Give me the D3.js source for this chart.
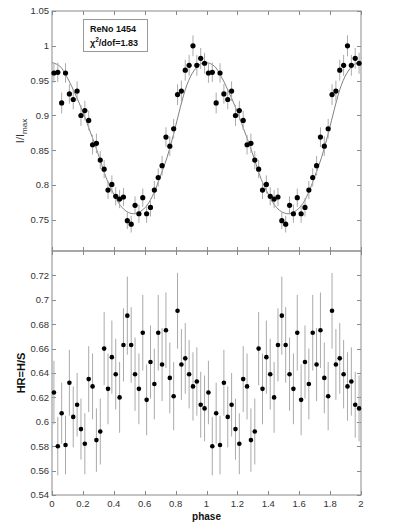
<!DOCTYPE html>
<html><head><meta charset="utf-8">
<script src="https://cdn.jsdelivr.net/npm/d3@7"></script>
<style>body{margin:0;background:#fff}</style>
</head><body><svg id="c" width="399" height="532"></svg>
<script>
// one cycle of folded data (the chart shows it twice, phase 0-1 and 1-2)
const phases = [0.0125,0.0375,0.0625,0.0875,0.1125,0.1375,0.1625,0.1875,0.2125,0.2375,
  0.2625,0.2875,0.3125,0.3375,0.3625,0.3875,0.4125,0.4375,0.4625,0.4875,
  0.5125,0.5375,0.5625,0.5875,0.6125,0.6375,0.6625,0.6875,0.7125,0.7375,
  0.7625,0.7875,0.8125,0.8375,0.8625,0.8875,0.9125,0.9375,0.9625,0.9875];
const flux = [0.961,0.962,0.918,0.961,0.931,0.923,0.935,0.900,0.907,0.893,
  0.858,0.860,0.836,0.823,0.793,0.801,0.784,0.780,0.783,0.749,
  0.744,0.771,0.759,0.782,0.759,0.768,0.793,0.811,0.828,0.869,
  0.856,0.881,0.930,0.935,0.965,0.972,1.000,0.972,0.982,0.975];
const fluxErr = [0.014,0.014,0.015,0.014,0.014,0.014,0.014,0.015,0.014,0.014,
  0.014,0.014,0.013,0.013,0.013,0.013,0.013,0.013,0.013,0.012,
  0.012,0.013,0.013,0.013,0.013,0.013,0.013,0.013,0.014,0.014,
  0.014,0.014,0.015,0.015,0.015,0.015,0.015,0.015,0.015,0.015];
const hr = [0.624,0.580,0.607,0.581,0.632,0.604,0.614,0.594,0.582,0.635,
  0.629,0.585,0.592,0.660,0.627,0.653,0.639,0.620,0.663,0.687,
  0.663,0.639,0.627,0.673,0.618,0.649,0.631,0.673,0.647,0.675,
  0.636,0.621,0.691,0.647,0.652,0.639,0.629,0.633,0.614,0.611];
const hrErr = [0.026,0.024,0.025,0.024,0.027,0.025,0.026,0.025,0.025,0.027,
  0.027,0.026,0.027,0.030,0.029,0.030,0.029,0.029,0.030,0.032,
  0.031,0.030,0.029,0.031,0.029,0.030,0.029,0.031,0.030,0.031,
  0.029,0.028,0.031,0.029,0.029,0.028,0.028,0.028,0.027,0.027];
// model curve (one cycle)
const modelPhase = [0,0.05,0.095,0.16,0.205,0.25,0.28,0.312,0.355,0.4,0.442,0.485,0.528,
  0.571,0.615,0.658,0.7,0.745,0.788,0.831,0.875,0.918,0.961,1.0];
const modelFlux = [0.976,0.971,0.956,0.926,0.902,0.875,0.857,0.836,0.808,0.787,0.771,0.762,0.759,
  0.762,0.771,0.788,0.812,0.840,0.874,0.912,0.945,0.964,0.974,0.976];
const cycles = [0,1];
const xTicks = [0,0.2,0.4,0.6,0.8,1,1.2,1.4,1.6,1.8,2];
const fluxTicks = [0.75,0.8,0.85,0.9,0.95,1,1.05];
const hrTicks = [0.54,0.56,0.58,0.6,0.62,0.64,0.66,0.68,0.7,0.72];
const labelName = "ReNo 1454";
const labelChi = "1.83";

const svg = d3.select("#c");
const L = 52, R = 361, T1 = 11, B1 = 251, T2 = 251, B2 = 495;
const axisCol = "#8a8a8a", textCol = "#333", font = "'Liberation Sans', Arial, sans-serif";

const x = d3.scaleLinear().domain([0,2]).range([L,R]);
const y1 = d3.scaleLinear().domain([0.7055,1.05]).range([B1,T1]);
const y2 = d3.scaleLinear().domain([0.54,0.74]).range([B2,T2]);

function fmt(v){ return d3.format("")(+v.toFixed(2)); }

const pts = [];
cycles.forEach(c => phases.forEach((p,i) => pts.push({p:p+c, f:flux[i], fe:fluxErr[i], h:hr[i], he:hrErr[i]})));
const model = [];
cycles.forEach(c => modelPhase.forEach((p,i) => { if(!(c>0 && i===0)) model.push([p+c, modelFlux[i]]); }));

function frame(y, top, bottom, ticksY, showX){
  const g = svg.append("g");
  g.append("rect").attr("x",L).attr("y",top).attr("width",R-L).attr("height",bottom-top)
    .attr("fill","none").attr("stroke",axisCol).attr("stroke-width",1);
  const tl = 4;
  xTicks.forEach(t => {
    const xx = Math.round(x(t))+0.5;
    g.append("line").attr("x1",xx).attr("x2",xx).attr("y1",top).attr("y2",top+tl).attr("stroke",axisCol);
    g.append("line").attr("x1",xx).attr("x2",xx).attr("y1",bottom).attr("y2",bottom-tl).attr("stroke",axisCol);
  });
  ticksY.forEach(t => {
    const yy = Math.round(y(t))+0.5;
    g.append("line").attr("x1",L).attr("x2",L+tl).attr("y1",yy).attr("y2",yy).attr("stroke",axisCol);
    g.append("line").attr("x1",R).attr("x2",R-tl).attr("y1",yy).attr("y2",yy).attr("stroke",axisCol);
    g.append("text").attr("x",L-3).attr("y",y(t)).attr("dy","0.35em").attr("text-anchor","end")
      .attr("font-family",font).attr("font-size","9.5px").attr("fill",textCol).text(fmt(t));
  });
  if(showX){
    xTicks.forEach(t => {
      g.append("text").attr("x",x(t)).attr("y",bottom+12).attr("text-anchor","middle")
        .attr("font-family",font).attr("font-size","9.5px").attr("fill",textCol).text(fmt(t));
    });
  }
}

frame(y1, T1, B1, fluxTicks, false);
frame(y2, T2, B2, hrTicks, true);

// top panel: model curve, error bars, points
const gTop = svg.append("g");
gTop.append("path").datum(model)
  .attr("d", d3.line().x(d=>x(d[0])).y(d=>y1(d[1])).curve(d3.curveCatmullRom))
  .attr("fill","none").attr("stroke","#808080").attr("stroke-width",1);
gTop.selectAll("line.e").data(pts).join("line")
  .attr("x1",d=>x(d.p)).attr("x2",d=>x(d.p))
  .attr("y1",d=>y1(d.f-d.fe)).attr("y2",d=>y1(d.f+d.fe))
  .attr("stroke","#aaa").attr("stroke-width",1);
gTop.selectAll("circle").data(pts).join("circle")
  .attr("cx",d=>x(d.p)).attr("cy",d=>y1(d.f)).attr("r",2.6).attr("fill","#000");

// bottom panel
const gBot = svg.append("g");
gBot.selectAll("line.e").data(pts).join("line")
  .attr("x1",d=>x(d.p)).attr("x2",d=>x(d.p))
  .attr("y1",d=>y2(d.h-d.he)).attr("y2",d=>y2(d.h+d.he))
  .attr("stroke","#aaa").attr("stroke-width",1);
gBot.selectAll("circle").data(pts).join("circle")
  .attr("cx",d=>x(d.p)).attr("cy",d=>y2(d.h)).attr("r",2.3).attr("fill","#000");

// legend box
const lg = svg.append("g");
lg.append("rect").attr("x",83.5).attr("y",19.5).attr("width",64).attr("height",32)
  .attr("fill","#fff").attr("stroke","#999").attr("stroke-width",1);
lg.append("text").attr("x",90).attr("y",32).attr("font-family",font).attr("font-weight","bold")
  .attr("font-size","9px").attr("fill","#111").text(labelName);
const t2 = lg.append("text").attr("x",90).attr("y",46).attr("font-family",font).attr("font-weight","bold")
  .attr("font-size","9px").attr("fill","#111");
t2.append("tspan").text("χ");
t2.append("tspan").attr("font-size","6.5px").attr("dy","-4").text("2");
t2.append("tspan").attr("dy","4").text("/dof=" + labelChi);

// axis labels
const yl1 = svg.append("text").attr("transform",`translate(24,${(T1+B1)/2}) rotate(-90)`)
  .attr("text-anchor","middle").attr("font-family",font).attr("font-size","11px").attr("fill",textCol);
yl1.append("tspan").text("I/I");
yl1.append("tspan").attr("font-size","8px").attr("dy","3").text("max");
svg.append("text").attr("transform",`translate(25,${(T2+B2)/2}) rotate(-90)`)
  .attr("text-anchor","middle").attr("font-family",font).attr("font-weight","bold")
  .attr("font-size","11px").attr("fill","#111").text("HR=H/S");
svg.append("text").attr("x",(L+R)/2).attr("y",520).attr("text-anchor","middle")
  .attr("font-family",font).attr("font-weight","bold").attr("font-size","10px").attr("fill","#111").text("phase");
</script></body></html>
